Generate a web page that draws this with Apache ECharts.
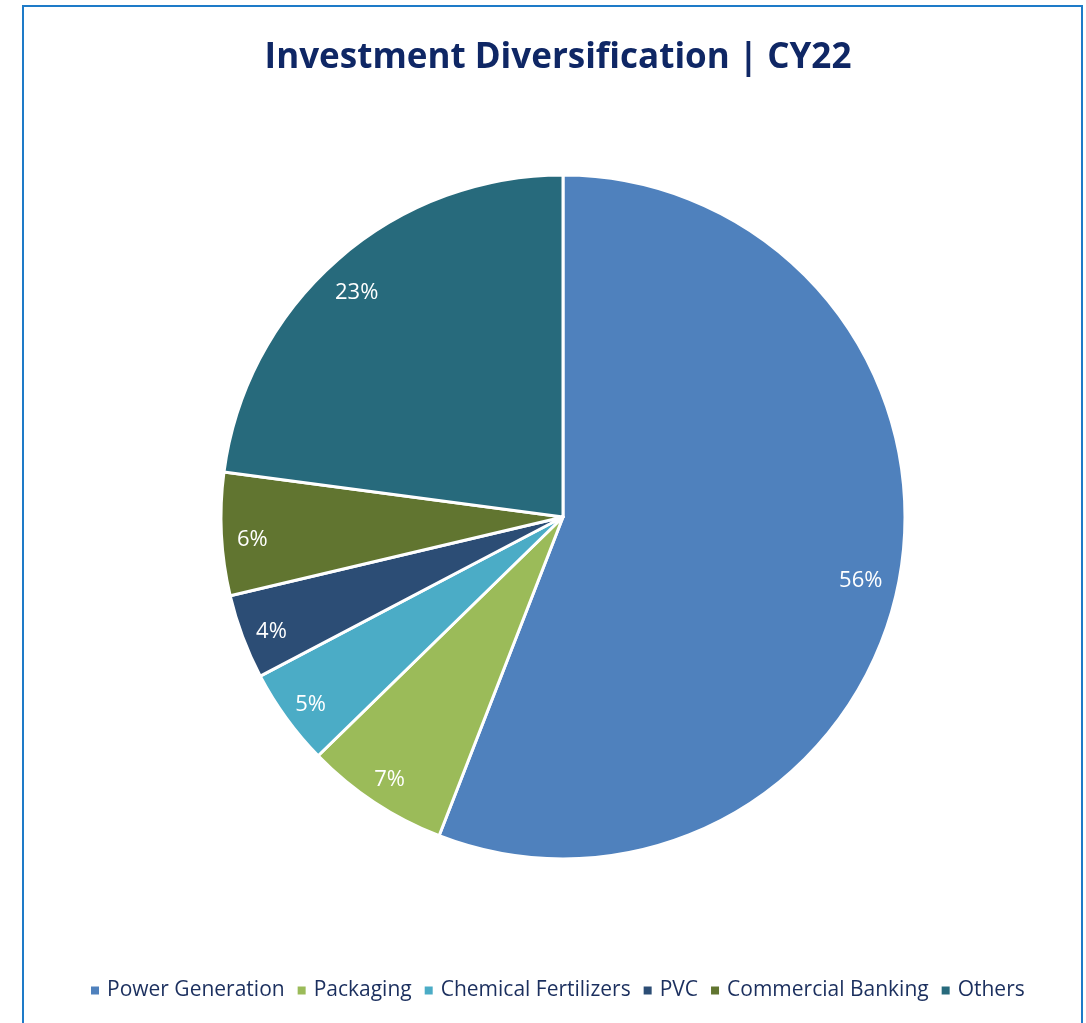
<!DOCTYPE html>
<html>
<head>
<meta charset="utf-8">
<script src="https://cdn.jsdelivr.net/npm/echarts@6/dist/echarts.min.js"></script>
<style>
html,body{margin:0;padding:0;background:#fff;}
#chart{width:1086px;height:1023px;}
</style>
</head>
<body>
<div id="chart"></div>
<script>
const categories = ['Power Generation', 'Packaging', 'Chemical Fertilizers', 'PVC', 'Commercial Banking', 'Others'];
const values = [55.9, 6.8, 4.6, 4.0, 5.8, 22.9];
const colors = ['#4F81BD', '#9BBB59', '#4BACC6', '#2C4D75', '#617530', '#276A7C'];
const titleText = 'Investment Diversification | CY22';

const data = categories.map((c, i) => ({ name: c, value: values[i] }));
const chart = echarts.init(document.getElementById('chart'));
const font = '"Open Sans", "Noto Sans", sans-serif';
chart.setOption({
  animation: false,
  color: colors,
  title: {
    text: titleText,
    left: 553, top: 36, textAlign: 'center',
    textStyle: { fontFamily: font, fontWeight: 'bold', fontSize: 35, color: '#0F2765' }
  },
  graphic: [{
    type: 'rect', shape: { x: 23, y: 6, width: 1059, height: 1030 },
    style: { fill: 'none', stroke: '#1E7BC8', lineWidth: 2 }, silent: true
  }],
  legend: {
    bottom: 17, left: 84,
    itemWidth: 10, itemHeight: 10, itemGap: 11,
    icon: 'rect',
    textStyle: { fontFamily: font, fontSize: 21, color: '#1B2F5E', padding: [0, 0, 0, 2] },
    data: categories
  },
  series: [{
    type: 'pie',
    center: [563, 517], radius: [0, 342],
    startAngle: 90, clockwise: true,
    itemStyle: { borderColor: '#fff', borderWidth: 3 },
    label: { show: false }, labelLine: { show: false },
    emphasis: { disabled: true },
    data: data
  }, {
    type: 'pie',
    center: [563, 517], radius: [266, 342],
    startAngle: 90, clockwise: true,
    silent: true,
    itemStyle: { color: 'rgba(0,0,0,0)', borderWidth: 0 },
    label: {
      show: true, position: 'inside', color: '#fff',
      fontFamily: font, fontSize: 22, offset: [-4, 7],
      formatter: p => Math.round(p.percent) + '%'
    },
    labelLine: { show: false },
    emphasis: { disabled: true },
    data: data
  }]
});
</script>
</body>
</html>
